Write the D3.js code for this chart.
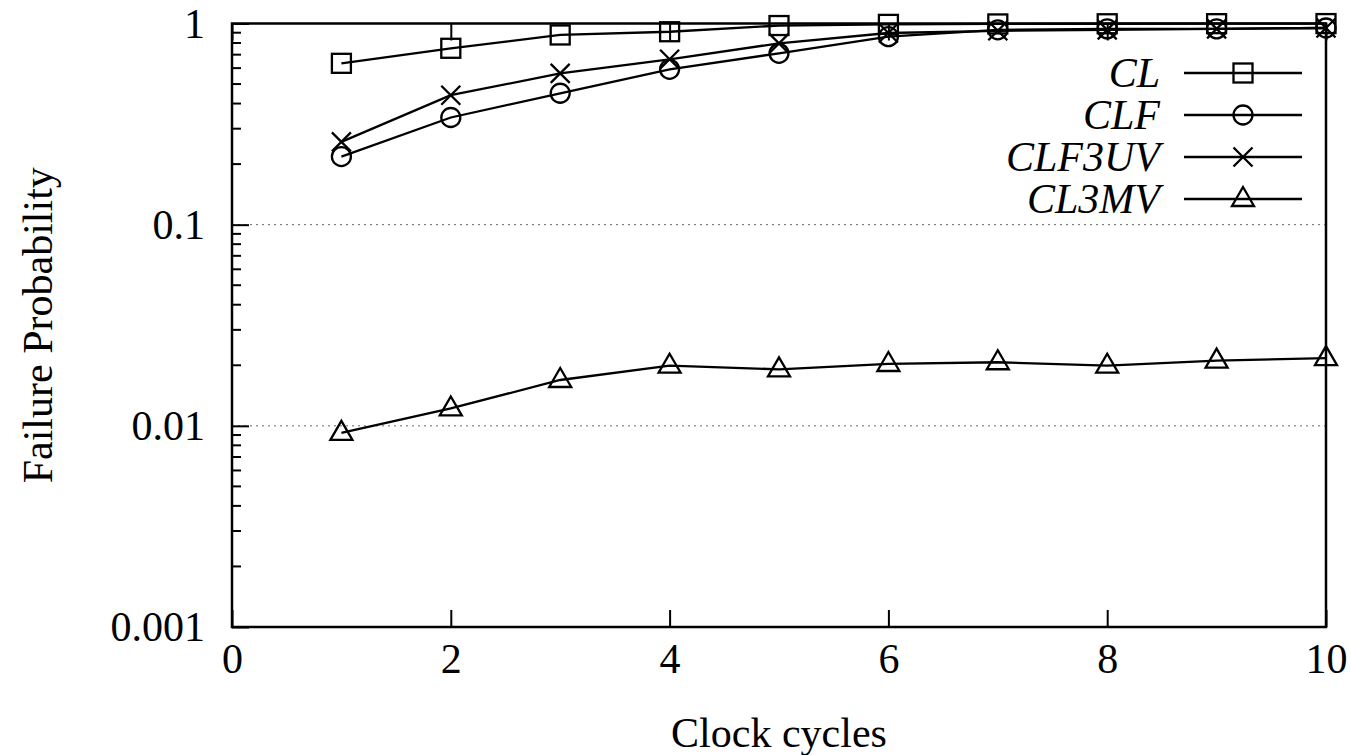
<!DOCTYPE html>
<html>
<head>
<meta charset="utf-8">
<script src="https://cdn.jsdelivr.net/npm/d3@7"></script>
<style>
  body { margin: 0; background: #fff; }
</style>
</head>
<body>
<div id="wrapper"></div>
<script>
// data
const cycles = [1, 2, 3, 4, 5, 6, 7, 8, 9, 10]
const seriesNames = ["CL", "CLF", "CLF3UV", "CL3MV"]
const markerShapes = ["square", "circle", "cross", "triangle"]
const clValues = [0.634, 0.753, 0.877, 0.91, 0.977, 0.99, 0.995, 0.997, 0.998, 0.999]
const clfValues = [0.218, 0.341, 0.45, 0.592, 0.711, 0.86, 0.93, 0.94, 0.94, 0.95]
const clf3uvValues = [0.258, 0.44, 0.565, 0.664, 0.797, 0.897, 0.92, 0.93, 0.94, 0.95]
const cl3mvValues = [0.00923, 0.0122, 0.0169, 0.0199, 0.0191, 0.0203, 0.0207, 0.0199, 0.0211, 0.0217]
const xTicks = [0, 2, 4, 6, 8, 10]
const yTicks = [0.001, 0.01, 0.1, 1]
const yTickLabels = ["0.001", "0.01", "0.1", "1"]

const serif = '"Liberation Serif", "Times New Roman", "DejaVu Serif", serif'

function drawChart() {

  let dimensions = {
    width: 1351,
    height: 755,
    margin: {
      top: 23.5,
      right: 25,
      bottom: 128,
      left: 232
    }
  }
  dimensions.boundedWidth = dimensions.width
                          - dimensions.margin.left
                          - dimensions.margin.right
  dimensions.boundedHeight = dimensions.height
                           - dimensions.margin.top
                           - dimensions.margin.bottom

  const dataset = seriesNames.map((name, i) => ({
    name: name,
    shape: markerShapes[i],
    values: [clValues, clfValues, clf3uvValues, cl3mvValues][i]
      .map((v, j) => ({ x: cycles[j], y: v }))
  }))

  const xScale = d3.scaleLinear()
    .domain([0, 10])
    .range([0, dimensions.boundedWidth])

  const yScale = d3.scaleLog()
    .domain([0.001, 1])
    .range([dimensions.boundedHeight, 0])

  const svg = d3.select("#wrapper").append("svg")
    .attr("width", dimensions.width)
    .attr("height", dimensions.height)
    .style("font-family", serif)

  const bounds = svg.append("g")
    .attr("transform", `translate(${dimensions.margin.left}, ${dimensions.margin.top})`)

  // dotted grid on the inner decades
  bounds.append("g")
    .selectAll("line")
    .data([0.01, 0.1])
    .join("line")
    .attr("x1", 0)
    .attr("x2", dimensions.boundedWidth)
    .attr("y1", d => yScale(d))
    .attr("y2", d => yScale(d))
    .attr("stroke", "#666")
    .attr("stroke-width", 1)
    .attr("stroke-dasharray", "2,4")

  // y axis: major and minor ticks
  const minorTicks = yScale.ticks().filter(t => !yTicks.includes(t))
  const yAxis = d3.axisLeft(yScale)
    .tickValues(yTicks)
    .tickSize(-17)
    .tickPadding(27)
    .tickFormat((d, i) => yTickLabels[i])
  const yAxisGroup = bounds.append("g").call(yAxis)
  yAxisGroup.append("g")
    .selectAll("line")
    .data(minorTicks)
    .join("line")
    .attr("x1", 0)
    .attr("x2", 9)
    .attr("y1", d => yScale(d))
    .attr("y2", d => yScale(d))
    .attr("stroke", "#000")
    .attr("stroke-width", 2)

  // x axis with mirror ticks on top
  const xAxis = d3.axisBottom(xScale)
    .tickValues(xTicks)
    .tickSize(-17)
    .tickPadding(16)
    .tickFormat(d3.format("d"))
  const xAxisGroup = bounds.append("g")
    .attr("transform", `translate(0, ${dimensions.boundedHeight})`)
    .call(xAxis)
  bounds.append("g")
    .call(d3.axisTop(xScale).tickValues(xTicks).tickSize(-17).tickFormat(""))

  bounds.selectAll(".tick line")
    .attr("stroke", "#000")
    .attr("stroke-width", 2)
  bounds.selectAll(".domain").remove()
  bounds.selectAll(".tick text")
    .attr("font-family", serif)
    .attr("font-size", 42)
  yAxisGroup.selectAll(".tick text").attr("dy", "0.33em")
  xAxisGroup.selectAll(".tick text").attr("dy", "0.72em")

  // series lines and markers
  const lineGenerator = d3.line()
    .x(d => xScale(d.x))
    .y(d => yScale(d.y))

  function drawMarker(g, shape, cx, cy) {
    const s = 9.5
    const common = sel => sel.attr("fill", "none").attr("stroke", "#000").attr("stroke-width", 2.3)
    if (shape === "square") {
      g.append("rect")
        .attr("x", cx - s).attr("y", cy - s)
        .attr("width", 2 * s).attr("height", 2 * s)
        .call(common)
    } else if (shape === "circle") {
      g.append("circle")
        .attr("cx", cx).attr("cy", cy).attr("r", s)
        .call(common)
    } else if (shape === "cross") {
      g.append("path")
        .attr("d", `M${cx - s},${cy - s}L${cx + s},${cy + s}M${cx - s},${cy + s}L${cx + s},${cy - s}`)
        .call(common)
    } else {
      g.append("path")
        .attr("d", `M${cx},${cy - 12}L${cx + 11},${cy + 7}L${cx - 11},${cy + 7}Z`)
        .call(common)
    }
  }

  dataset.forEach(series => {
    const g = bounds.append("g")
    g.append("path")
      .datum(series.values)
      .attr("d", lineGenerator)
      .attr("fill", "none")
      .attr("stroke", "#000")
      .attr("stroke-width", 2.3)
    series.values.forEach(d => drawMarker(g, series.shape, xScale(d.x), yScale(d.y)))
  })

  // plot border
  bounds.append("rect")
    .attr("x", 0)
    .attr("y", 0)
    .attr("width", dimensions.boundedWidth)
    .attr("height", dimensions.boundedHeight)
    .attr("fill", "none")
    .attr("stroke", "#000")
    .attr("stroke-width", 2.5)

  // legend
  const legend = svg.append("g")
  dataset.forEach((series, i) => {
    const y = 73 + i * 42
    legend.append("text")
      .attr("x", 1160)
      .attr("y", y)
      .attr("dy", "0.33em")
      .attr("text-anchor", "end")
      .attr("font-size", 42)
      .attr("font-style", "italic")
      .text(series.name)
    legend.append("line")
      .attr("x1", 1184).attr("x2", 1302)
      .attr("y1", y).attr("y2", y)
      .attr("stroke", "#000").attr("stroke-width", 2.3)
    drawMarker(legend, series.shape, 1243, y)
  })

  // axis titles
  svg.append("text")
    .attr("x", dimensions.margin.left + dimensions.boundedWidth / 2)
    .attr("y", 747)
    .attr("text-anchor", "middle")
    .attr("font-size", 42)
    .text("Clock cycles")

  svg.append("text")
    .attr("transform", `translate(52, ${dimensions.margin.top + dimensions.boundedHeight / 2}) rotate(-90)`)
    .attr("text-anchor", "middle")
    .attr("font-size", 42)
    .text("Failure Probability")
}
drawChart()
</script>
</body>
</html>
